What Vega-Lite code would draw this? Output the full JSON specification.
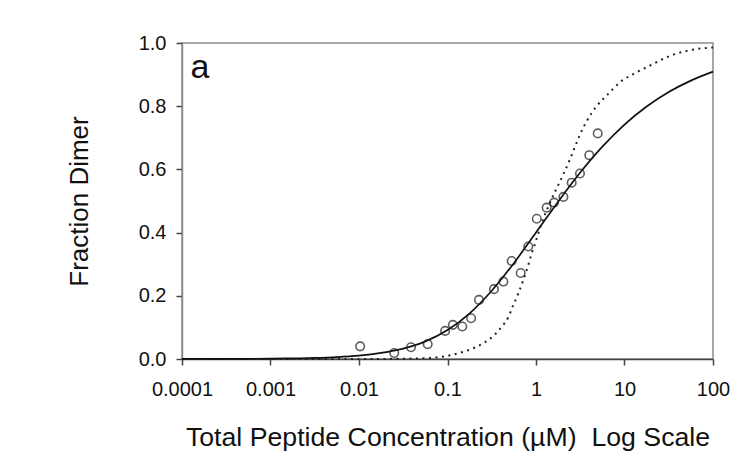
{
  "$schema": "https://vega.github.io/schema/vega-lite/v6.json",
  "autosize": "none",
  "width": 531,
  "height": 316,
  "padding": {"left": 182, "top": 43, "right": 42, "bottom": 113},
  "background": "#ffffff",
  "config": {
    "font": "Liberation Sans",
    "view": {"stroke": "#8c8c8c", "strokeWidth": 1.5},
    "axis": {
      "labelFont": "Liberation Sans",
      "titleFont": "Liberation Sans",
      "labelColor": "#111111",
      "titleColor": "#111111",
      "titleFontWeight": "normal",
      "grid": false,
      "domainColor": "#444444",
      "domainWidth": 1.5,
      "tickColor": "#444444",
      "tickWidth": 1.5
    }
  },
  "datasets": {
    "observed": [
      {"conc": 0.0103, "frac": 0.040},
      {"conc": 0.025, "frac": 0.019},
      {"conc": 0.0387, "frac": 0.037},
      {"conc": 0.0597, "frac": 0.047},
      {"conc": 0.094, "frac": 0.089},
      {"conc": 0.115, "frac": 0.108},
      {"conc": 0.147, "frac": 0.103},
      {"conc": 0.185, "frac": 0.129},
      {"conc": 0.227, "frac": 0.187},
      {"conc": 0.335, "frac": 0.221},
      {"conc": 0.428, "frac": 0.245},
      {"conc": 0.531, "frac": 0.310},
      {"conc": 0.671, "frac": 0.272},
      {"conc": 0.818, "frac": 0.356},
      {"conc": 1.02, "frac": 0.444},
      {"conc": 1.32, "frac": 0.479},
      {"conc": 1.60, "frac": 0.495},
      {"conc": 2.04, "frac": 0.513},
      {"conc": 2.53, "frac": 0.558},
      {"conc": 3.14, "frac": 0.587},
      {"conc": 4.0, "frac": 0.645},
      {"conc": 4.98, "frac": 0.714}
    ],
    "solid": [
      {"conc": 0.0001, "frac": 0.0001},
      {"conc": 0.000178, "frac": 0.0002},
      {"conc": 0.000316, "frac": 0.00035},
      {"conc": 0.000562, "frac": 0.00062},
      {"conc": 0.001, "frac": 0.0011},
      {"conc": 0.00178, "frac": 0.002},
      {"conc": 0.00316, "frac": 0.0035},
      {"conc": 0.00562, "frac": 0.0062},
      {"conc": 0.01, "frac": 0.0109},
      {"conc": 0.0178, "frac": 0.0194},
      {"conc": 0.0316, "frac": 0.0329},
      {"conc": 0.0562, "frac": 0.0557},
      {"conc": 0.1, "frac": 0.0917},
      {"conc": 0.178, "frac": 0.1446},
      {"conc": 0.316, "frac": 0.216},
      {"conc": 0.562, "frac": 0.3033},
      {"conc": 1.0, "frac": 0.40},
      {"conc": 1.78, "frac": 0.498},
      {"conc": 3.16, "frac": 0.590},
      {"conc": 5.62, "frac": 0.672},
      {"conc": 10, "frac": 0.742},
      {"conc": 17.8, "frac": 0.799},
      {"conc": 31.6, "frac": 0.845},
      {"conc": 56.2, "frac": 0.881},
      {"conc": 100, "frac": 0.9095}
    ],
    "dotted": [
      {"conc": 0.0001, "frac": 0.0},
      {"conc": 0.001, "frac": 0.0},
      {"conc": 0.01, "frac": 0.0},
      {"conc": 0.03, "frac": 0.001},
      {"conc": 0.06, "frac": 0.003},
      {"conc": 0.1, "frac": 0.01},
      {"conc": 0.132, "frac": 0.018},
      {"conc": 0.196, "frac": 0.034},
      {"conc": 0.254, "frac": 0.05},
      {"conc": 0.33, "frac": 0.073},
      {"conc": 0.41, "frac": 0.102},
      {"conc": 0.486, "frac": 0.132},
      {"conc": 0.553, "frac": 0.17},
      {"conc": 0.63, "frac": 0.207},
      {"conc": 0.72, "frac": 0.25},
      {"conc": 0.805, "frac": 0.291},
      {"conc": 0.894, "frac": 0.334},
      {"conc": 0.975, "frac": 0.365},
      {"conc": 1.16, "frac": 0.43},
      {"conc": 1.44, "frac": 0.495},
      {"conc": 1.71, "frac": 0.54},
      {"conc": 2.04, "frac": 0.585},
      {"conc": 2.42, "frac": 0.632},
      {"conc": 2.76, "frac": 0.672},
      {"conc": 3.14, "frac": 0.71},
      {"conc": 3.73, "frac": 0.752},
      {"conc": 4.84, "frac": 0.8},
      {"conc": 6.56, "frac": 0.839},
      {"conc": 8.9, "frac": 0.876},
      {"conc": 13.7, "frac": 0.907},
      {"conc": 21.2, "frac": 0.934},
      {"conc": 30, "frac": 0.955},
      {"conc": 50.5, "frac": 0.975},
      {"conc": 100, "frac": 0.986}
    ]
  },
  "layer": [
    {
      "data": {"name": "dotted"},
      "mark": {"type": "line", "color": "#222222", "strokeWidth": 2, "strokeDash": [2, 4.5], "interpolate": "monotone"},
      "encoding": {
        "x": {
          "field": "conc",
          "type": "quantitative",
          "scale": {"type": "log", "domain": [0.0001, 100], "nice": false},
          "axis": {
            "title": "Total Peptide Concentration (µM)\u00a0\u00a0Log Scale",
            "values": [0.0001, 0.001, 0.01, 0.1, 1, 10, 100],
            "format": "~g",
            "labelFontSize": 20,
            "titleFontSize": 26.7,
            "tickSize": 6,
            "labelPadding": 14,
            "titlePadding": 25,
            "labelFlush": false
          }
        },
        "y": {
          "field": "frac",
          "type": "quantitative",
          "scale": {"domain": [0, 1], "nice": false},
          "axis": {
            "title": "Fraction Dimer",
            "values": [0, 0.2, 0.4, 0.6, 0.8, 1.0],
            "format": ".1f",
            "labelFontSize": 20,
            "titleFontSize": 26,
            "tickSize": 6,
            "labelPadding": 10,
            "titlePadding": 46,
            "domainColor": "#8c8c8c",
            "labelFlush": false
          }
        }
      }
    },
    {
      "data": {"name": "solid"},
      "mark": {"type": "line", "color": "#111111", "strokeWidth": 1.7, "interpolate": "monotone"},
      "encoding": {
        "x": {"field": "conc", "type": "quantitative"},
        "y": {"field": "frac", "type": "quantitative"}
      }
    },
    {
      "data": {"name": "observed"},
      "mark": {"type": "point", "shape": "circle", "filled": false, "color": "#1a1a1a", "strokeWidth": 1.6, "size": 72},
      "encoding": {
        "x": {"field": "conc", "type": "quantitative"},
        "y": {"field": "frac", "type": "quantitative"}
      }
    },
    {
      "data": {"values": [{"label": "a"}]},
      "mark": {"type": "text", "fontSize": 34, "font": "Liberation Sans", "color": "#111111", "align": "center", "baseline": "alphabetic"},
      "encoding": {
        "text": {"field": "label", "type": "nominal"},
        "x": {"datum": 0.00016, "type": "quantitative"},
        "y": {"datum": 0.89, "type": "quantitative"}
      }
    }
  ]
}
